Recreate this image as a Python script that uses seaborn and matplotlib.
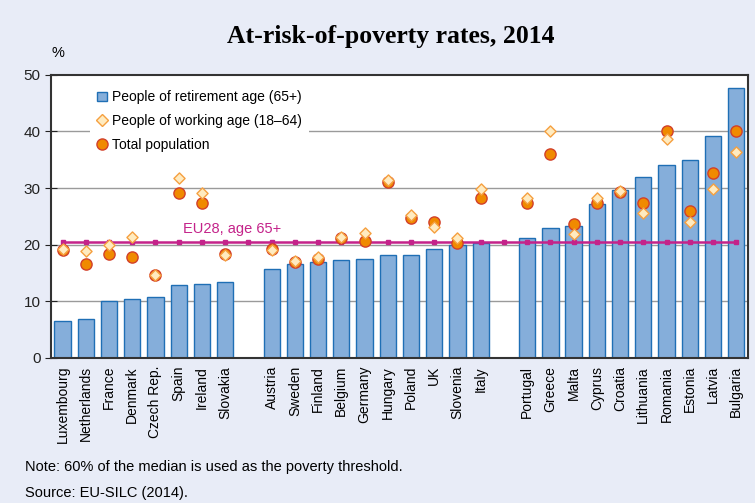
import numpy as np
import pandas as pd
import seaborn as sns
import matplotlib.pyplot as plt
from matplotlib.lines import Line2D
from matplotlib.patches import Patch

# values (%)
countries = ["Luxembourg", "Netherlands", "France", "Denmark", "Czech Rep.", "Spain", "Ireland", "Slovakia",
             "Austria", "Sweden", "Finland", "Belgium", "Germany", "Hungary", "Poland", "UK", "Slovenia", "Italy",
             "Portugal", "Greece", "Malta", "Cyprus", "Croatia", "Lithuania", "Romania", "Estonia", "Latvia", "Bulgaria"]
group_sizes = [8, 10, 10]
retirement = [6.4, 6.9, 10.1, 10.4, 10.7, 12.8, 13.0, 13.4,
              15.7, 16.5, 17.0, 17.3, 17.4, 18.1, 18.1, 19.3, 20.0, 20.2,
              21.1, 23.0, 23.3, 27.2, 29.6, 31.9, 34.0, 35.0, 39.2, 47.7]
working = [19.3, 18.9, 19.9, 21.3, 14.6, 31.7, 29.2, 18.1,
           19.0, 17.1, 17.8, 21.4, 22.0, 31.4, 25.2, 23.1, 21.2, 29.9,
           28.3, 40.1, 21.8, 28.3, 29.4, 25.6, 38.6, 24.0, 29.9, 36.4]
total = [19.0, 16.5, 18.4, 17.8, 14.7, 29.2, 27.4, 18.4,
         19.3, 17.0, 17.4, 21.2, 20.6, 31.1, 24.7, 24.0, 20.3, 28.3,
         27.4, 36.0, 23.7, 27.3, 29.3, 27.3, 40.1, 26.0, 32.7, 40.1]
eu28_65 = 20.5

# x positions with one empty slot between groups
pos = []
start = 0
for n in group_sizes:
    pos += list(range(start, start + n))
    start += n + 1
df = pd.DataFrame({"country": countries, "pos": pos, "retirement": retirement,
                   "working": working, "total": total})

bg = "#E8ECF7"
fig = plt.figure(figsize=(7.55, 5.03), dpi=100, facecolor=bg)
ax = fig.add_axes([0.0675, 0.289, 0.923, 0.562])
ax.set_facecolor("white")
plt.rcParams["font.family"] = ["Liberation Sans", "DejaVu Sans"]

for y in [10, 20, 30, 40]:
    ax.axhline(y, color="#9a9a9a", lw=1, zorder=0)

sns.barplot(data=df, x="pos", y="retirement", native_scale=True, width=0.7,
            color="#85AEDA", edgecolor="#1F6FB5", linewidth=1, saturation=1, ax=ax, zorder=2)

# EU28 reference line with small markers at every slot
slots = np.arange(0, pos[-1] + 1)
ax.plot(slots, np.full(len(slots), eu28_65), color="#C4238A", lw=1.8, marker="s",
        markersize=2.5, zorder=3)
ax.text(7.3, eu28_65 + 1.0, "EU28, age 65+", color="#C4238A", fontsize=10.5,
        family="Liberation Sans", ha="center", va="bottom", zorder=3)

sns.scatterplot(data=df, x="pos", y="total", marker="o", s=65, color="#F08A00",
                edgecolor="#D2402A", linewidth=1, ax=ax, zorder=4)
sns.scatterplot(data=df, x="pos", y="working", marker="D", s=32, color="#FFEBC0",
                edgecolor="#F5A040", linewidth=1, ax=ax, zorder=5)

ax.set_xlim(-0.5, pos[-1] + 0.5)
ax.set_ylim(0, 50)
ax.set_yticks(range(0, 51, 10))
ax.set_xticks(pos)
ax.set_xticklabels(countries, rotation=90, fontsize=10, family="Liberation Sans")
ax.tick_params(axis="x", length=0, pad=6)
ax.tick_params(axis="y", direction="inout", length=8, labelsize=11, colors="#222222")
for lab in ax.get_yticklabels():
    lab.set_family("Liberation Sans")
ax.set_xlabel("")
ax.set_ylabel("")
for s in ax.spines.values():
    s.set_color("#333333")
    s.set_linewidth(1.5)

handles = [Patch(facecolor="#85AEDA", edgecolor="#1F6FB5"),
           Line2D([], [], ls="none", marker="D", markersize=6, markerfacecolor="#FFEBC0",
                  markeredgecolor="#F5A040"),
           Line2D([], [], ls="none", marker="o", markersize=8, markerfacecolor="#F08A00",
                  markeredgecolor="#D2402A")]
labels = ["People of retirement age (65+)", "People of working age (18\u201364)", "Total population"]
leg = ax.legend(handles, labels, loc="upper left", bbox_to_anchor=(0.05, 0.985),
                frameon=True, facecolor="white", edgecolor="none", framealpha=1,
                prop={"family": "Liberation Sans", "size": 10}, handlelength=0.7,
                handletextpad=0.4, labelspacing=0.7, borderaxespad=0.3, borderpad=0.5)
leg.set_zorder(1)

fig.text(0.517, 0.928, "At-risk-of-poverty rates, 2014", ha="center", va="center",
         fontsize=18.5, fontweight="bold", family="Liberation Serif")
fig.text(0.068, 0.895, "%", ha="left", va="center", fontsize=10.5, family="Liberation Sans")
fig.text(0.033, 0.071, "Note: 60% of the median is used as the poverty threshold.", fontsize=10.5,
         family="Liberation Sans", va="center")
fig.text(0.033, 0.02, "Source: EU-SILC (2014).", fontsize=10.5, family="Liberation Sans", va="center")

fig.savefig("out.png", dpi=100, facecolor=bg)
